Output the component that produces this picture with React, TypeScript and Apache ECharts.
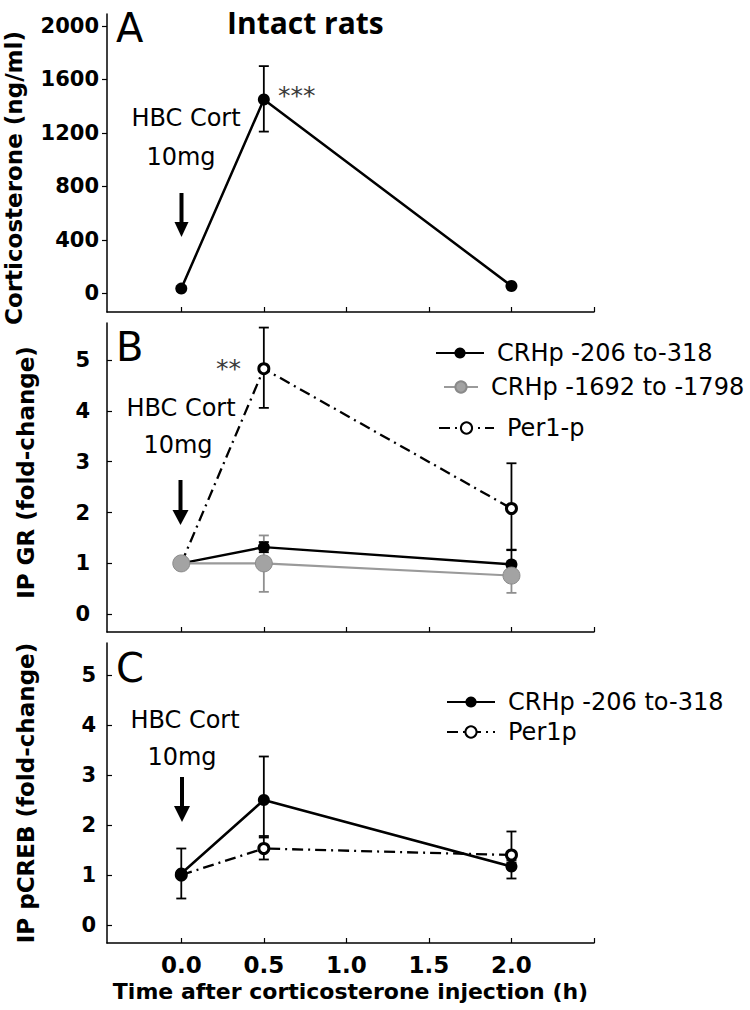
import React, { useEffect, useRef } from "react";
import * as echarts from "echarts";

const FONT = '"DejaVu Sans", sans-serif';

// time points (h)
const times = [0, 0.5, 2];
const xLabelValues = [0, 0.5, 1, 1.5, 2];
const xTickValues = [0, 0.5, 1, 1.5, 2, 2.5];

// Panel A: corticosterone (ng/ml)
const cortMean = [35, 1450, 55];
const cortLow = [null, 1210, null];
const cortHigh = [null, 1700, null];
const cortTicks = [0, 400, 800, 1200, 1600, 2000];

// Panel B: IP GR (fold-change)
const grCrh206 = [1.0, 1.32, 0.98];
const grCrh206Low = [null, 1.22, 0.75];
const grCrh206High = [null, 1.42, 1.27];
const grCrh1692 = [1.0, 1.0, 0.76];
const grCrh1692Low = [null, 0.44, 0.42];
const grCrh1692High = [null, 1.55, 1.05];
const grPer1 = [1.0, 4.83, 2.08];
const grPer1Low = [null, 4.06, 1.26];
const grPer1High = [null, 5.64, 2.97];

// Panel C: IP pCREB (fold-change)
const crebCrh206 = [1.03, 2.5, 1.17];
const crebCrh206Low = [0.53, 1.75, 0.93];
const crebCrh206High = [1.53, 3.37, 1.3];
const crebPer1 = [1.0, 1.53, 1.4];
const crebPer1Low = [null, 1.31, 1.25];
const crebPer1High = [null, 1.78, 1.87];
const foldTicks = [0, 1, 2, 3, 4, 5];

const NAME_206 = "CRHp -206 to-318";
const NAME_1692 = "CRHp -1692 to -1798";
const NAME_PER1_B = "Per1-p";
const NAME_PER1_C = "Per1p";

const DASHDOT = [11, 5, 2, 5];

function pairs(ys: number[]) {
  return times.map((t, i) => [t, ys[i]]);
}

function errSeries(idx: number, lo: (number | null)[], hi: (number | null)[], color: string) {
  const data = times
    .map((t, i) => (lo[i] == null ? null : [t, lo[i], hi[i]]))
    .filter((d) => d != null);
  return {
    type: "custom",
    xAxisIndex: idx,
    yAxisIndex: idx,
    silent: true,
    clip: false,
    data,
    encode: { x: 0, y: [1, 2] },
    renderItem: (params: any, api: any) => {
      const x = api.value(0);
      const a = api.coord([x, api.value(1)]);
      const b = api.coord([x, api.value(2)]);
      const w = 5;
      const st = { stroke: color, lineWidth: 1.8 };
      return {
        type: "group",
        children: [
          { type: "line", shape: { x1: a[0], y1: a[1], x2: b[0], y2: b[1] }, style: st },
          { type: "line", shape: { x1: a[0] - w, y1: a[1], x2: a[0] + w, y2: a[1] }, style: st },
          { type: "line", shape: { x1: b[0] - w, y1: b[1], x2: b[0] + w, y2: b[1] }, style: st },
        ],
      };
    },
  };
}

function blackLine(name: string, idx: number, ys: number[]) {
  return {
    type: "line",
    name,
    xAxisIndex: idx,
    yAxisIndex: idx,
    data: pairs(ys),
    symbol: "circle",
    symbolSize: 12,
    lineStyle: { color: "#000", width: 2.5 },
    itemStyle: { color: "#000" },
  };
}

function greyLine(name: string, idx: number, ys: number[]) {
  return {
    type: "line",
    name,
    xAxisIndex: idx,
    yAxisIndex: idx,
    data: pairs(ys),
    symbol: "circle",
    symbolSize: 17,
    lineStyle: { color: "#9a9a9a", width: 2.2 },
    itemStyle: { color: "#a3a3a3", borderColor: "#8a8a8a", borderWidth: 1 },
  };
}

function openLine(name: string, idx: number, ys: number[]) {
  return {
    type: "line",
    name,
    xAxisIndex: idx,
    yAxisIndex: idx,
    data: pairs(ys),
    symbol: "circle",
    symbolSize: 10,
    lineStyle: { color: "#000", width: 2.3, type: DASHDOT },
    itemStyle: { color: "#fff", borderColor: "#000", borderWidth: 3 },
  };
}

function xAxis(idx: number, showLabels: boolean) {
  return {
    type: "value",
    gridIndex: idx,
    min: -0.45,
    max: 2.5,
    axisLine: { show: true, onZero: false, lineStyle: { color: "#000", width: 1.5 } },
    axisTick: { show: true, inside: true, length: 5, customValues: xTickValues, lineStyle: { color: "#000", width: 1.2 } },
    splitLine: { show: false },
    axisLabel: showLabels
      ? {
          show: true,
          customValues: xLabelValues,
          formatter: (v: number) => v.toFixed(1),
          fontFamily: FONT,
          fontWeight: "bold",
          fontSize: 23,
          color: "#000",
          margin: 10,
        }
      : { show: false },
    name: showLabels ? "Time after corticosterone injection (h)" : "",
    nameLocation: "middle",
    nameGap: 37,
    nameTextStyle: { fontFamily: FONT, fontWeight: "bold", fontSize: 22, color: "#000" },
  };
}

function yAxis(idx: number, min: number, max: number, ticks: number[], name: string, opts: any) {
  return {
    type: "value",
    gridIndex: idx,
    min,
    max,
    axisLine: { show: true, onZero: false, lineStyle: { color: "#000", width: 1.5 } },
    axisTick: { show: true, inside: opts.inside, length: 5, customValues: ticks, lineStyle: { color: "#000", width: 1.2 } },
    splitLine: { show: false },
    axisLabel: {
      customValues: ticks,
      formatter: (v: number) => String(v),
      fontFamily: FONT,
      fontWeight: "bold",
      fontSize: 21,
      color: "#000",
      margin: opts.margin,
    },
    name,
    nameLocation: "middle",
    nameGap: opts.nameGap,
    nameTextStyle: {
      fontFamily: FONT,
      fontWeight: "bold",
      fontSize: 23,
      color: "#000",
      padding: opts.namePadding,
    },
  };
}

function legendItem(name: string, left: number, yc: number, itemWidth: number) {
  return {
    data: [name],
    left,
    top: yc - 12,
    padding: 0,
    itemWidth,
    itemHeight: 14,
    selectedMode: false,
    textStyle: { fontFamily: FONT, fontSize: 24, color: "#000", lineHeight: 24, padding: [0, 0, 0, 8] },
  };
}

function arrow(x: number, yTop: number, yTip: number, headLen: number, headW: number) {
  return {
    type: "group",
    children: [
      { type: "rect", shape: { x: x - 2, y: yTop, width: 4, height: yTip - headLen - yTop + 1 }, style: { fill: "#000" } },
      {
        type: "polygon",
        shape: { points: [[x - headW / 2, yTip - headLen], [x + headW / 2, yTip - headLen], [x, yTip]] },
        style: { fill: "#000" },
      },
    ],
  };
}

function txt(text: string, x: number, y: number, size: number, opts: any = {}) {
  return {
    type: "text",
    x,
    y,
    style: {
      text,
      fontFamily: opts.family || FONT,
      fontSize: size,
      fontWeight: opts.weight || "normal",
      fill: opts.color || "#000",
      align: opts.align || "left",
      verticalAlign: "middle",
    },
  };
}

export default function App() {
  const ref = useRef<HTMLDivElement>(null);
  useEffect(() => {
    if (!ref.current) return;
    const chart = echarts.init(ref.current, null, { renderer: "svg" });
    const option: any = {
      animation: false,
      backgroundColor: "#fff",
      textStyle: { fontFamily: FONT },
      grid: [
        { left: 107, width: 487, top: 14, height: 298, outerBoundsMode: "none", containLabel: false },
        { left: 107, width: 487, top: 323, height: 309, outerBoundsMode: "none", containLabel: false },
        { left: 107, width: 487, top: 643, height: 300, outerBoundsMode: "none", containLabel: false },
      ],
      xAxis: [xAxis(0, false), xAxis(1, false), xAxis(2, true)],
      yAxis: [
        yAxis(0, -140, 2090, cortTicks, "Corticosterone (ng/ml)", { inside: false, margin: 8, nameGap: 82, namePadding: [0, 30, 0, 0] }),
        yAxis(1, -0.35, 5.73, foldTicks, "IP GR (fold-change)", { inside: true, margin: 17, nameGap: 70, namePadding: [0, 0, 0, 10] }),
        yAxis(2, -0.36, 5.64, foldTicks, "IP pCREB (fold-change)", { inside: true, margin: 11, nameGap: 70, namePadding: 0 }),
      ],
      legend: [
        legendItem(NAME_206, 435, 353, 48),
        legendItem(NAME_1692, 443, 387, 34),
        legendItem(NAME_PER1_B, 438, 428, 55),
        legendItem(NAME_206, 446, 702, 48),
        legendItem(NAME_PER1_C, 446, 732, 48),
      ],
      series: [
        // Panel A
        errSeries(0, cortLow, cortHigh, "#000"),
        blackLine("Corticosterone", 0, cortMean),
        // Panel B
        errSeries(1, grPer1Low, grPer1High, "#000"),
        openLine(NAME_PER1_B, 1, grPer1),
        errSeries(1, grCrh206Low, grCrh206High, "#000"),
        blackLine(NAME_206, 1, grCrh206),
        errSeries(1, grCrh1692Low, grCrh1692High, "#8f8f8f"),
        greyLine(NAME_1692, 1, grCrh1692),
        // Panel C
        errSeries(2, crebPer1Low, crebPer1High, "#000"),
        openLine(NAME_PER1_C, 2, crebPer1),
        errSeries(2, crebCrh206Low, crebCrh206High, "#000"),
        blackLine(NAME_206, 2, crebCrh206),
      ],
      graphic: [
        txt("A", 116, 28, 40),
        txt("Intact rats", 227, 22, 30, { family: '"Open Sans", sans-serif', weight: "bold" }),
        txt("***", 278, 95, 25, { color: "#3a3a3a" }),
        txt("HBC Cort", 186, 118, 24, { align: "center" }),
        txt("10mg", 181, 157, 24, { align: "center" }),
        arrow(181.5, 193, 237, 15, 14),

        txt("B", 116, 347, 40),
        txt("**", 216, 368, 25, { color: "#3a3a3a" }),
        txt("HBC Cort", 181, 408, 24, { align: "center" }),
        txt("10mg", 178, 445, 24, { align: "center" }),
        arrow(180.5, 480, 525, 15, 16),

        txt("C", 116, 668, 40),
        txt("HBC Cort", 185, 720, 24, { align: "center" }),
        txt("10mg", 182, 757, 24, { align: "center" }),
        arrow(182, 777, 822, 16, 16),
      ],
    };
    chart.setOption(option);
    return () => chart.dispose();
  }, []);
  return (
    <div
      ref={ref}
      style={{ position: "absolute", left: 0, top: 0, width: 750, height: 1010, background: "#fff" }}
    />
  );
}
